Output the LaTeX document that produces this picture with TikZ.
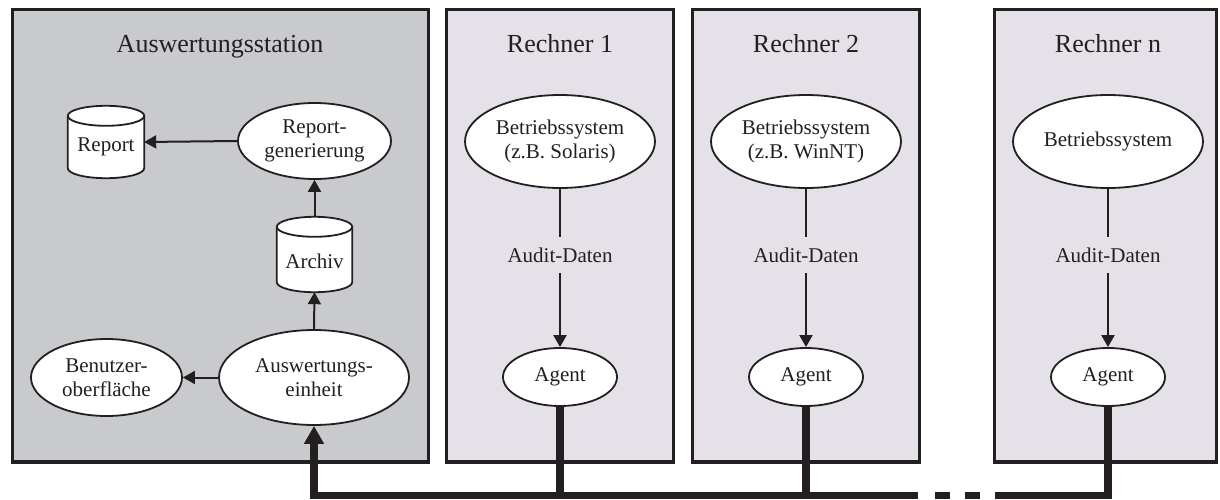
\documentclass[tikz,border=0pt]{standalone}
\usepackage{fontspec}
\setmainfont{Liberation Serif}
\usetikzlibrary{shapes.geometric,arrows.meta,calc}
\definecolor{stationfill}{HTML}{C9CACE}
\definecolor{hostfill}{HTML}{E4E2E8}
\definecolor{ink}{HTML}{231F20}
\tikzset{
  panel/.style={draw=ink,line width=3.2pt},
  title/.style={anchor=base,inner sep=0pt,font=\fontsize{26}{30}\selectfont,text=ink},
  oval/.style={ellipse,draw=ink,fill=white,line width=1.8pt,inner sep=0pt,align=center,
    font=\fontsize{21}{24}\selectfont,text=ink},
  store/.style={rectangle,inner sep=0pt,font=\fontsize{21}{24}\selectfont,text=ink},
  storeline/.style={draw=ink,fill=white,line width=1.8pt},
  flow/.style={draw=ink,line width=2pt,-{Triangle[length=12pt,width=13pt]}},
  plain/.style={draw=ink,line width=1.8pt},
  tag/.style={inner sep=0pt,minimum height=36pt,font=\fontsize{21}{24}\selectfont,text=ink},
  bus/.style={draw=ink,line width=7.5pt},
  busin/.style={bus,-{Triangle[length=18pt,width=19pt]}}
}
% outline of a data store (cylinder) around a named node
\newcommand\storeoutline[1]{%
  \path[storeline] let \p1=(#1.north west), \p2=(#1.south east), \n1={(\x2-\x1)/2} in
    (\x1,\y1-10) -- (\x1,\y2+10)
    arc[start angle=180,end angle=360,x radius=\n1,y radius=10pt]
    -- (\x2,\y1-10)
    arc[start angle=0,end angle=180,x radius=\n1,y radius=10pt]
    -- cycle;
  \draw[ink,line width=1.8pt] let \p1=(#1.north west), \p2=(#1.south east), \n1={(\x2-\x1)/2} in
    (\x1,\y1-10) arc[start angle=180,end angle=360,x radius=\n1,y radius=10pt];
}
\begin{document}
\begin{tikzpicture}[x=1pt,y=1pt]
\useasboundingbox (0,0) rectangle (1220,499);

% panels
\draw[panel,fill=stationfill] (12.5,37) rectangle (428.5,489.5);
\draw[panel,fill=hostfill] (446.5,37) rectangle (673.5,489.5);
\draw[panel,fill=hostfill] (692.5,37) rectangle (919.5,489.5);
\draw[panel,fill=hostfill] (994.5,37) rectangle (1216.5,489.5);

% panel titles
\node[title] (tS) at (220,446) {Auswertungsstation};
\node[title] (t1) at (560,446) {Rechner 1};
\node[title] (t2) at (806,446) {Rechner 2};
\node[title] (tn) at (1108,446) {Rechner n};

% evaluation station
\node[store,minimum width=76pt,minimum height=72pt] (rep) at (106,357) {};
\storeoutline{rep}
\node[store] at (106,352) {Report};
\node[oval,minimum width=153pt,minimum height=76pt] (gen) at (314.5,358) {Report-\\generierung};
\node[store,minimum width=75pt,minimum height=75pt] (arc) at (314.5,244.5) {};
\storeoutline{arc}
\node[store] at (314.5,238) {Archiv};
\node[oval,minimum width=190pt,minimum height=95pt] (aus) at (314,121.5) {Auswertungs-\\einheit};
\node[oval,minimum width=151pt,minimum height=77pt] (ben) at (106.5,121.5) {Benutzer-\\oberfläche};

\draw[flow] (gen.west) -- (rep.east);
\draw[flow] (arc.north) -- (gen.south);
\draw[flow] (aus.north) -- (arc.south);
\draw[flow] (aus.west) -- (ben.east);

% monitored hosts
\foreach \k/\cx/\os in {1/560/{Betriebssystem\\(z.B. Solaris)},2/806/{Betriebssystem\\(z.B. WinNT)},n/1108/{Betriebssystem}}{
  \node[oval,minimum width=190pt,minimum height=93pt] (os\k) at (\cx,357.5) {\os};
  \node[tag] (ad\k) at (\cx,244) {Audit-Daten};
  \node[oval,minimum width=114pt,minimum height=58pt] (ag\k) at (\cx,122) {Agent};
  \draw[plain] (os\k.south) -- (ad\k.north);
  \draw[flow] (ad\k.south) -- (ag\k.north);
}

% network bus
\coordinate (busL) at (314,3.75);
\coordinate (busA) at (918,3.75);
\coordinate (busB) at (995,3.75);
\coordinate (d1a) at (935,3.75);
\coordinate (d1b) at (950,3.75);
\coordinate (d2a) at (965,3.75);
\coordinate (d2b) at (980,3.75);
\draw[busin] (busA) -- (busL) -- (aus.south);
\draw[bus] (agn.south) |- (busB);
\draw[bus] (d1a) -- (d1b);
\draw[bus] (d2a) -- (d2b);
\draw[bus] (ag1.south) -- (ag1.south |- busL);
\draw[bus] (ag2.south) -- (ag2.south |- busL);
\end{tikzpicture}
\end{document}
